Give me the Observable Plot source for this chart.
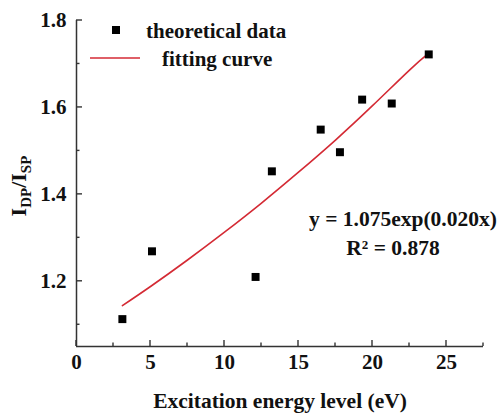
<!DOCTYPE html>
<html><head><meta charset="utf-8">
<script src="https://cdn.jsdelivr.net/npm/d3@7"></script>
<script src="https://cdn.jsdelivr.net/npm/@observablehq/plot@0.6"></script>
<style>body{margin:0;background:#fff}</style>
</head><body><div id="chart"></div>
<script>
const energy = [3.1, 5.1, 12.1, 13.2, 16.5, 17.8, 19.3, 21.3, 23.8];
const ratio  = [1.113, 1.269, 1.210, 1.453, 1.549, 1.497, 1.618, 1.609, 1.722];
const fitX = [3.1, 5, 7.5, 10, 12.5, 15, 17.5, 20, 22.5, 23.8];
const fitY = [1.144, 1.188, 1.249, 1.313, 1.380, 1.451, 1.525, 1.604, 1.686, 1.725];
const xTicks = [0, 5, 10, 15, 20, 25];
const xMinor = [2.5, 7.5, 12.5, 17.5, 22.5, 27.5];
const yTicks = [1.2, 1.4, 1.6, 1.8];
const yMinor = [1.1, 1.3, 1.5, 1.7];
const legendLabels = ["theoretical data", "fitting curve"];
const eqLines = ["y = 1.075exp(0.020x)", "R\u00B2 = 0.878"];
const xTitle = "Excitation energy level (eV)";

const FONT = "'Liberation Serif', 'Times New Roman', serif";
const AX = "#333";
const RED = "#d42a34";
const W = 499, H = 414, ML = 76, MR = 16, MT = 20, MB = 68;
const MAJOR = 6, MINOR = 3.5;
const X0 = 0, Y0 = 1.05;

const points = energy.map((x, i) => ({x, y: ratio[i]}));
const fit = fitX.map((x, i) => ({x, y: fitY[i]}));

const chart = Plot.plot({
  width: W, height: H,
  marginLeft: ML, marginRight: MR, marginTop: MT, marginBottom: MB,
  style: {fontFamily: FONT, background: "#fff", color: "#111"},
  x: {domain: [X0, 27.5]},
  y: {domain: [Y0, 1.8]},
  marks: [
    Plot.ruleX([X0], {stroke: AX, strokeWidth: 1.5}),
    Plot.ruleY([Y0], {stroke: AX, strokeWidth: 1.5}),
    Plot.axisX(xTicks, {tickSize: 0, tickPadding: 8, fontSize: 21, fontWeight: "bold", label: null, tickFormat: d => String(d)}),
    Plot.axisY(yTicks, {tickSize: 0, tickPadding: 10, fontSize: 21, fontWeight: "bold", label: null, tickFormat: d => d.toFixed(1)}),
    Plot.line(fit, {x: "x", y: "y", stroke: RED, strokeWidth: 1.6, curve: "natural"}),
    Plot.dot(points, {x: "x", y: "y", symbol: "square", r: 4.5, fill: "#000"}),
    Plot.text([xTitle], {frameAnchor: "bottom", dy: 55, fontSize: 21.5, fontWeight: "bold", lineAnchor: "middle", fill: "#111"})
  ]
});
document.getElementById("chart").appendChild(chart);

const svg = d3.select(chart);
const sx = chart.scale("x"), sy = chart.scale("y");
const bx = sx.apply(X0), by = sy.apply(Y0);

// inward major/minor ticks drawn from the plot's own scales
const tg = svg.append("g").attr("stroke", AX).attr("stroke-width", 1.4);
xTicks.concat(xMinor).forEach(v => {
  const len = xTicks.includes(v) ? MAJOR : MINOR;
  tg.append("line").attr("x1", sx.apply(v)).attr("x2", sx.apply(v)).attr("y1", by).attr("y2", by - len);
});
yTicks.concat(yMinor).forEach(v => {
  const len = yTicks.includes(v) ? MAJOR : MINOR;
  tg.append("line").attr("y1", sy.apply(v)).attr("y2", sy.apply(v)).attr("x1", bx).attr("x2", bx + len);
});

// y-axis title with subscripts
const yt = svg.append("text")
  .attr("transform", "translate(26,186) rotate(-90)")
  .attr("text-anchor", "middle")
  .attr("font-family", FONT).attr("font-weight", "bold").attr("font-size", 22).attr("fill", "#111");
yt.append("tspan").text("I");
yt.append("tspan").attr("font-size", 15).attr("dy", 5).text("DP");
yt.append("tspan").attr("dy", -5).text("/I");
yt.append("tspan").attr("font-size", 15).attr("dy", 5).text("SP");

// legend
const lg = svg.append("g").attr("font-family", FONT).attr("font-weight", "bold").attr("font-size", 21)
  .attr("fill", "#111").attr("text-anchor", "start");
lg.append("rect").attr("x", 112).attr("y", 26).attr("width", 8).attr("height", 8).attr("fill", "#000");
lg.append("text").attr("x", 146).attr("y", 31).attr("dy", "0.35em").text(legendLabels[0]);
lg.append("line").attr("x1", 90).attr("x2", 140).attr("y1", 58).attr("y2", 58).attr("stroke", RED).attr("stroke-width", 1.6);
lg.append("text").attr("x", 162).attr("y", 59).attr("dy", "0.35em").text(legendLabels[1]);

// equation annotation
const eq = svg.append("g").attr("font-family", FONT).attr("font-weight", "bold").attr("font-size", 21.5)
  .attr("fill", "#111").attr("text-anchor", "middle");
eq.append("text").attr("x", 403).attr("y", 218).attr("dy", "0.35em").text(eqLines[0]);
eq.append("text").attr("x", 393).attr("y", 247).attr("dy", "0.35em").text(eqLines[1]);
</script>
</body></html>
